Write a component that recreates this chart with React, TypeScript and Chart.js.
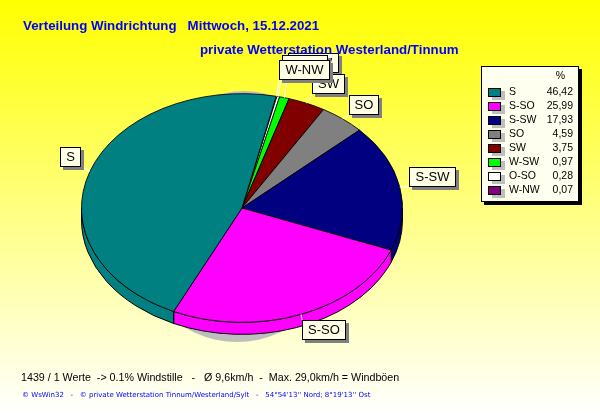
import React, { useEffect, useRef } from "react";
import { Chart, registerables } from "chart.js";

Chart.register(...registerables);

// Legend order, as printed in the reference
const directions = ["S", "S-SO", "S-SW", "SO", "SW", "W-SW", "O-SO", "W-NW"];
const shares = [46.42, 25.99, 17.93, 4.59, 3.75, 0.97, 0.28, 0.07];
const shareLabels = ["46,42", "25,99", "17,93", "4,59", "3,75", "0,97", "0,28", "0,07"];
const sliceColors = ["#008080", "#FF00FF", "#000080", "#808080", "#800000", "#00FF00", "#FFFFFF", "#800080"];

const titleLine1 = "Verteilung Windrichtung   Mittwoch, 15.12.2021";
const titleLine2 = "private Wetterstation Westerland/Tinnum";
const footerLine1 = "1439 / 1 Werte  -> 0.1% Windstille   -   Ø 9,6km/h  -  Max. 29,0km/h = Windböen";
const footerLine2 = "© WsWin32   -   © private Wetterstation Tinnum/Westerland/Sylt   -   54°54'13'' Nord; 8°19'13'' Ost";

// Callout boxes [x, y, w, h] in paint order
const calloutOrder = ["S", "S-SO", "S-SW", "SO", "W-SW", "O-SO", "SW", "W-NW"];
const calloutBoxes: Record<string, number[]> = {
  S: [60, 147, 21, 20],
  "S-SO": [302, 320, 44, 20],
  "S-SW": [409, 167, 47, 20],
  SO: [349, 95, 30, 20],
  "W-SW": [288, 53, 51, 20],
  "O-SO": [282, 55, 46, 20],
  SW: [312, 74, 33, 20],
  "W-NW": [279, 60, 51, 20],
};

const CENTER_X = 242;
const CENTER_Y = 208;
const RADIUS = 160;
const SQUASH = 114 / 160;
const DEPTH = 12;
const ROTATION = 12.3;

const order = directions.map((_, i) => directions.length - 1 - i);

function clamp(v: number, lo: number, hi: number) {
  return Math.max(lo, Math.min(hi, v));
}

function box(ctx: CanvasRenderingContext2D, x: number, y: number, w: number, h: number, fill: string, shadow: string, sh: number) {
  ctx.fillStyle = shadow;
  ctx.fillRect(x + sh, y + sh, w, h);
  ctx.fillStyle = fill;
  ctx.fillRect(x, y, w, h);
  ctx.strokeStyle = "#000";
  ctx.lineWidth = 1;
  ctx.strokeRect(x + 0.5, y + 0.5, w - 1, h - 1);
}

const piePlugin = {
  id: "flatPie",
  beforeDraw(chart: any) {
    const { ctx, width, height } = chart;
    const g = ctx.createLinearGradient(0, 0, 0, height);
    g.addColorStop(0, "#FFFF00");
    g.addColorStop(1, "#FFFFFF");
    ctx.fillStyle = g;
    ctx.fillRect(0, 0, width, height);
  },
  beforeDatasetsDraw(chart: any) {
    const { ctx } = chart;
    const arcs = chart.getDatasetMeta(0).data;
    const cx = arcs[0].x;
    const cy = arcs[0].y;
    const R = arcs[0].outerRadius;
    // drop shadow: slim lenses peeking out above and below the pie
    ctx.save();
    ctx.fillStyle = "#BEBEBE";
    ctx.beginPath();
    ctx.ellipse(cx - 5, cy + 12, 110, 122, 0, 0, Math.PI * 2);
    ctx.fill();
    ctx.beginPath();
    ctx.ellipse(cx + 2, cy, 100, 117, 0, Math.PI, Math.PI * 2);
    ctx.fill();
    // rim
    const full = Math.PI * 2;
    arcs.forEach((arc: any, i: number) => {
      ctx.fillStyle = chart.data.datasets[0].backgroundColor[i];
      ctx.strokeStyle = "#000";
      ctx.lineWidth = 1;
      for (const k of [-1, 0, 1]) {
        const s = Math.max(arc.startAngle + k * full, 0);
        const e = Math.min(arc.endAngle + k * full, Math.PI);
        if (e <= s) continue;
        ctx.beginPath();
        ctx.ellipse(cx, cy, R, R * SQUASH, 0, s, e);
        ctx.ellipse(cx, cy + DEPTH, R, R * SQUASH, 0, e, s, true);
        ctx.closePath();
        ctx.fill();
        ctx.stroke();
      }
    });
    ctx.restore();
    // squash the pie into an ellipse
    ctx.save();
    ctx.translate(cx, cy);
    ctx.scale(1, SQUASH);
    ctx.translate(-cx, -cy);
  },
  afterDatasetsDraw(chart: any) {
    const { ctx } = chart;
    ctx.restore();
    const arcs = chart.getDatasetMeta(0).data;
    const labels: string[] = chart.data.labels;

    // leader lines
    ctx.save();
    ctx.strokeStyle = "#FFFFFF";
    ctx.lineWidth = 1;
    arcs.forEach((arc: any, i: number) => {
      const [bx, by, bw, bh] = calloutBoxes[labels[i]];
      const mid = (arc.startAngle + arc.endAngle) / 2;
      const px = arc.x + Math.cos(mid) * arc.outerRadius;
      const py = arc.y + Math.sin(mid) * arc.outerRadius * SQUASH;
      ctx.beginPath();
      ctx.moveTo(px, py);
      ctx.lineTo(clamp(px, bx, bx + bw), clamp(py, by, by + bh));
      ctx.stroke();
    });
    ctx.restore();

    // callouts
    ctx.save();
    ctx.font = '13px "Liberation Sans", Arial, sans-serif';
    ctx.textBaseline = "middle";
    ctx.textAlign = "center";
    calloutOrder.forEach((name) => {
      const [x, y, w, h] = calloutBoxes[name];
      box(ctx, x, y, w, h, "#FFFFE6", "#808080", 3);
      ctx.fillStyle = "#000";
      ctx.fillText(name, x + w / 2, y + h / 2 + 0.5);
    });
    ctx.restore();

    // titles
    ctx.save();
    ctx.fillStyle = "#0000FF";
    ctx.textBaseline = "alphabetic";
    ctx.textAlign = "left";
    ctx.font = 'bold 13.3px "Liberation Sans", Arial, sans-serif';
    ctx.fillText(titleLine1, 23, 30);
    ctx.fillText(titleLine2, 200, 54);
    ctx.fillStyle = "#000";
    ctx.font = '10.7px "Liberation Sans", Arial, sans-serif';
    ctx.fillText(footerLine1, 21, 381);
    ctx.fillStyle = "#0000FF";
    ctx.font = '7px "DejaVu Sans", sans-serif';
    ctx.fillText(footerLine2, 22, 397);
    ctx.restore();

    // legend
    ctx.save();
    box(ctx, 481, 66, 98, 136, "#FFFFF0", "#000000", 3);
    ctx.font = '10.5px "Liberation Sans", Arial, sans-serif';
    ctx.textBaseline = "middle";
    ctx.fillStyle = "#000";
    ctx.textAlign = "right";
    ctx.fillText("%", 565, 76);
    directions.forEach((name, i) => {
      const y = 92 + i * 14;
      ctx.fillStyle = "#BEBEBE";
      ctx.fillRect(492, y - 1, 13, 9);
      ctx.fillStyle = sliceColors[i];
      ctx.fillRect(488, y - 4, 13, 9);
      ctx.strokeStyle = "#000";
      ctx.strokeRect(488.5, y - 3.5, 12, 8);
      ctx.fillStyle = "#000";
      ctx.textAlign = "left";
      ctx.fillText(name, 509, y + 0.5);
      ctx.textAlign = "right";
      ctx.fillText(shareLabels[i], 573, y + 0.5);
    });
    ctx.restore();
  },
};

export default function App() {
  const ref = useRef<HTMLCanvasElement>(null);
  useEffect(() => {
    const chart = new Chart(ref.current!, {
      type: "pie",
      data: {
        labels: order.map((i) => directions[i]),
        datasets: [
          {
            data: order.map((i) => shares[i]),
            backgroundColor: order.map((i) => sliceColors[i]),
            borderColor: "#000000",
            borderWidth: 1,
            borderAlign: "center",
          },
        ],
      },
      options: {
        animation: false,
        responsive: false,
        devicePixelRatio: 1,
        rotation: ROTATION,
        layout: {
          padding: {
            left: CENTER_X - RADIUS - 1,
            right: 600 - CENTER_X - RADIUS - 1,
            top: CENTER_Y - RADIUS - 1,
            bottom: 415 - CENTER_Y - RADIUS - 1,
          },
        },
        plugins: { legend: { display: false }, tooltip: { enabled: false }, title: { display: false } },
      },
      plugins: [piePlugin],
    } as any);
    return () => chart.destroy();
  }, []);
  return (
    <canvas
      ref={ref}
      width={600}
      height={415}
      style={{ position: "fixed", left: 0, top: 0, width: 600, height: 415, display: "block" }}
    />
  );
}
